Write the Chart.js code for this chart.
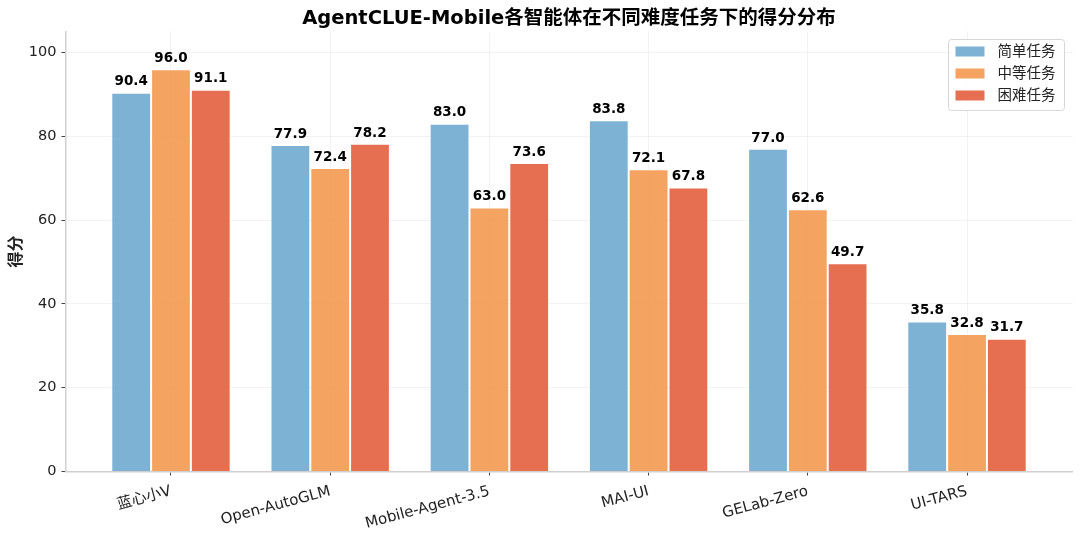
<!DOCTYPE html>
<html lang="zh">
<head>
    <meta charset="UTF-8">
    <title>AgentCLUE-Mobile</title>
    <script src="https://cdn.jsdelivr.net/npm/chart.js@4.4.1/dist/chart.umd.min.js"></script>
    <style>
        html, body { margin: 0; padding: 0; background: #fff; }
        #wrap { width: 1080px; height: 535px; }
    </style>
</head>
<body>
    <div id="wrap"><canvas id="chart"></canvas></div>

    <script>
        const FONT = "'DejaVu Sans', 'Noto Sans CJK SC', sans-serif";

        // data
        const agents = ['蓝心小V', 'Open-AutoGLM', 'Mobile-Agent-3.5', 'MAI-UI', 'GELab-Zero', 'UI-TARS'];
        const easyScores = [90.4, 77.9, 83.0, 83.8, 77.0, 35.8];
        const mediumScores = [96.0, 72.4, 63.0, 72.1, 62.6, 32.8];
        const hardScores = [91.1, 78.2, 73.6, 67.8, 49.7, 31.7];
        const seriesNames = ['简单任务', '中等任务', '困难任务'];
        const yTicks = [0, 20, 40, 60, 80, 100];
        const chartTitle = 'AgentCLUE-Mobile各智能体在不同难度任务下的得分分布';

        const colors = ['rgba(103,164,206,0.85)', 'rgba(242,147,69,0.85)', 'rgba(227,86,50,0.85)'];

        function toPoints(values) {
            return values.map((v, i) => ({ x: i, y: v }));
        }

        // title centred over the plot area (not the canvas)
        const plotTitle = {
            id: 'plotTitle',
            afterDraw(chart) {
                const ctx = chart.ctx;
                const area = chart.chartArea;
                ctx.save();
                ctx.font = 'bold 19.5px ' + FONT;
                ctx.fillStyle = '#000';
                ctx.textAlign = 'center';
                ctx.textBaseline = 'middle';
                ctx.fillText(chartTitle, (area.left + area.right) / 2, 19);
                ctx.restore();
            }
        };

        // value labels above each bar
        const valueLabels = {
            id: 'valueLabels',
            afterDatasetsDraw(chart) {
                const ctx = chart.ctx;
                ctx.save();
                ctx.font = 'bold 13.5px ' + FONT;
                ctx.fillStyle = '#000';
                ctx.textAlign = 'center';
                ctx.textBaseline = 'bottom';
                chart.data.datasets.forEach((ds, di) => {
                    chart.getDatasetMeta(di).data.forEach((bar, i) => {
                        ctx.fillText(ds.data[i].y.toFixed(1), bar.x, bar.y - 4);
                    });
                });
                ctx.restore();
            }
        };

        // legend box inside the top-right corner of the plot
        const innerLegend = {
            id: 'innerLegend',
            afterDraw(chart) {
                const ctx = chart.ctx;
                const area = chart.chartArea;
                const w = 116, h = 71;
                const x0 = area.right - 8 - w, y0 = area.top + 8;
                ctx.save();
                ctx.beginPath();
                ctx.roundRect(x0, y0, w, h, 3);
                ctx.fillStyle = 'rgba(255,255,255,0.8)';
                ctx.fill();
                ctx.strokeStyle = '#d6d6d6';
                ctx.lineWidth = 1;
                ctx.stroke();
                ctx.font = '14.5px ' + FONT;
                ctx.textBaseline = 'middle';
                ctx.textAlign = 'left';
                seriesNames.forEach((name, i) => {
                    const cy = y0 + 12 + i * 22;
                    ctx.fillStyle = colors[i];
                    ctx.fillRect(x0 + 7, cy - 5, 29, 10);
                    ctx.fillStyle = '#222';
                    ctx.fillText(name, x0 + 49, cy + 1);
                });
                ctx.restore();
            }
        };

        new Chart(document.getElementById('chart'), {
            type: 'bar',
            data: {
                datasets: [
                    { label: seriesNames[0], data: toPoints(easyScores), backgroundColor: colors[0] },
                    { label: seriesNames[1], data: toPoints(mediumScores), backgroundColor: colors[1] },
                    { label: seriesNames[2], data: toPoints(hardScores), backgroundColor: colors[2] }
                ]
            },
            options: {
                responsive: true,
                maintainAspectRatio: false,
                animation: false,
                layout: { padding: { left: 0, right: 7.5, top: 31.5, bottom: 0 } },
                datasets: {
                    bar: {
                        categoryPercentage: 0.75,
                        barPercentage: 1.0,
                        borderColor: 'rgba(255,255,255,0.9)',
                        borderWidth: 1
                    }
                },
                scales: {
                    x: {
                        type: 'linear',
                        offset: false,
                        min: -0.6625,
                        max: 5.6625,
                        afterBuildTicks: s => { s.ticks = agents.map((a, i) => ({ value: i })); },
                        afterFit: s => { s.height = 63.5; },
                        ticks: {
                            callback: v => agents[v],
                            autoSkip: false,
                            minRotation: 15,
                            maxRotation: 15,
                            padding: 7,
                            color: '#222',
                            font: { family: FONT, size: 15 }
                        },
                        grid: {
                            offset: false,
                            color: 'rgba(0,0,0,0.05)',
                            tickColor: '#444',
                            tickLength: 4
                        },
                        border: { color: '#cfcfcf', width: 1.5 }
                    },
                    y: {
                        min: 0,
                        max: 105,
                        afterBuildTicks: s => { s.ticks = yTicks.map(v => ({ value: v })); },
                        afterFit: s => { s.width = 65.5; },
                        ticks: {
                            color: '#222',
                            padding: 5,
                            font: { family: FONT, size: 14.5 }
                        },
                        grid: {
                            color: 'rgba(0,0,0,0.05)',
                            tickColor: '#444',
                            tickLength: 4
                        },
                        border: { color: '#cfcfcf', width: 1.5 },
                        title: {
                            display: true,
                            text: '得分',
                            color: '#222',
                            padding: { top: 7, bottom: 0 },
                            font: { family: FONT, size: 16, weight: 'bold' }
                        }
                    }
                },
                plugins: {
                    legend: { display: false },
                    tooltip: { enabled: false },
                    title: { display: false }
                }
            },
            plugins: [plotTitle, valueLabels, innerLegend]
        });
    </script>
</body>
</html>
